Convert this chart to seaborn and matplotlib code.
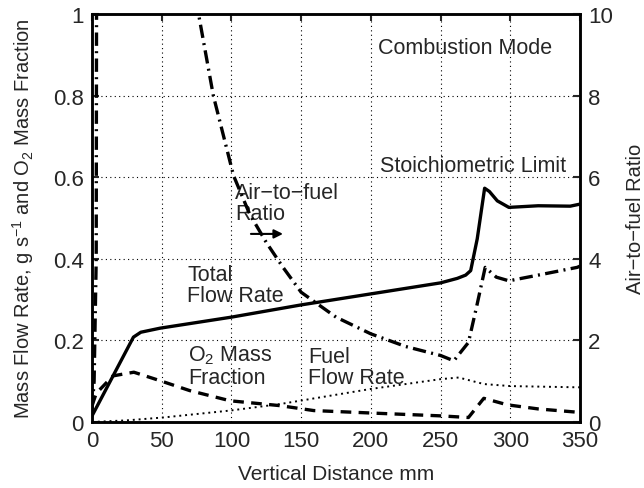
import numpy as np
import pandas as pd
import matplotlib
matplotlib.use('Agg')
import matplotlib.pyplot as plt
import seaborn as sns

sns.set_style('white')
plt.rcParams['font.family'] = ['Liberation Sans', 'DejaVu Sans']
plt.rcParams['mathtext.fontset'] = 'custom'
plt.rcParams['mathtext.rm'] = 'Liberation Sans'
plt.rcParams['mathtext.it'] = 'Liberation Sans'

# data
total_x = [0, 29.7, 35, 48.9, 100, 150, 200, 250, 262, 268, 271.6, 276.3,
           281.6, 285, 290.7, 299, 320, 343, 350]
total_y = [0.015, 0.208, 0.22, 0.23, 0.257, 0.287, 0.314, 0.341, 0.352,
           0.36, 0.371, 0.449, 0.573, 0.565, 0.542, 0.526, 0.53, 0.529, 0.534]

o2_x = [0, 3, 15, 30, 49, 70, 99, 135, 159, 200, 250, 265, 270, 281, 298, 320, 348, 350]
o2_y = [0.04, 0.07, 0.113, 0.122, 0.101, 0.077, 0.052, 0.04, 0.028, 0.022, 0.015,
        0.012, 0.011, 0.058, 0.042, 0.032, 0.024, 0.024]

fuel_x = [0, 25, 51, 99, 135, 200, 250, 263, 281, 300, 348, 350]
fuel_y = [0.0, 0.004, 0.011, 0.028, 0.044, 0.081, 0.105, 0.109, 0.093, 0.088, 0.085, 0.085]

afr_x = [0, 1.5, 3, 4, 60, 76.4, 87, 101.5, 113, 125, 137, 150, 175, 200, 225, 250,
         259.5, 270, 276, 282, 290, 299, 320, 348, 350]
afr_y = [0.3, 1.0, 4, 30, 16, 10, 8.0, 6.04, 5.1, 4.4, 3.79, 3.18, 2.57, 2.16, 1.85,
         1.63, 1.5, 1.95, 2.85, 3.79, 3.55, 3.46, 3.6, 3.79, 3.82]

fig = plt.figure(figsize=(6.44, 4.89), dpi=100)
ax = fig.add_axes([0.1429, 0.135, 0.7577, 0.8343])
ax2 = ax.twinx()

lw = 2.4
sns.lineplot(x=total_x, y=total_y, ax=ax, color='black', linewidth=lw, sort=False)
sns.lineplot(x=o2_x, y=o2_y, ax=ax, color='black', linewidth=lw, sort=False,
             linestyle=(0, (3.2, 2.2)))
sns.lineplot(x=fuel_x, y=fuel_y, ax=ax, color='black', linewidth=1.4, sort=False,
             linestyle=(0, (1, 2)))
sns.lineplot(x=afr_x, y=afr_y, ax=ax2, color='black', linewidth=lw, sort=False,
             linestyle=(0, (4, 1.6, 0.6, 1.6)))

ax.set_xlim(0, 350)
ax.set_ylim(0, 1)
ax2.set_ylim(0, 10)
ax.set_xticks(np.arange(0, 351, 50))
ax.set_yticks(np.arange(0, 1.01, 0.2))
ax.set_yticklabels(['0', '0.2', '0.4', '0.6', '0.8', '1'])
ax2.set_yticks(np.arange(0, 11, 2))

ax.grid(True, color='black', linestyle=(0, (1, 3)), linewidth=0.8)
for a in (ax, ax2):
    for s in a.spines.values():
        s.set_linewidth(1.8)
        s.set_color('black')
ax.tick_params(axis='both', direction='in', length=5, width=1.5, labelsize=16,
               top=True, right=False, pad=6)
ax2.tick_params(axis='y', direction='in', length=5, width=1.5, labelsize=16, pad=6)

ax.set_xlabel('Vertical Distance mm', fontsize=15, labelpad=9)
ax.set_ylabel(r'Mass Flow Rate, g s$^{-1}$ and O$_2$ Mass Fraction', fontsize=14.5,
              labelpad=12)
ax2.set_ylabel('Air\u2212to\u2212fuel Ratio', fontsize=14.5, labelpad=9)

fs = 15.5
ax.text(0.586, 0.918, 'Combustion Mode', transform=ax.transAxes, fontsize=fs, va='center')
ax.text(0.59, 0.628, 'Stoichiometric Limit', transform=ax.transAxes, fontsize=fs, va='center')
ax.text(0.293, 0.537, 'Air\u2212to\u2212fuel\nRatio', transform=ax.transAxes, fontsize=fs,
        va='center', linespacing=1.05)
ax.annotate('', xy=(0.397, 0.461), xytext=(0.32, 0.461), xycoords='axes fraction',
            arrowprops=dict(arrowstyle='-|>', color='black', lw=1.5, mutation_scale=13))
ax.text(0.195, 0.336, 'Total\nFlow Rate', transform=ax.transAxes, fontsize=fs,
        va='center', linespacing=1.05)
ax.text(0.197, 0.137, 'O$_2$ Mass\nFraction', transform=ax.transAxes, fontsize=fs,
        va='center', linespacing=1.05)
ax.text(0.443, 0.135, 'Fuel\nFlow Rate', transform=ax.transAxes, fontsize=fs,
        va='center', linespacing=1.05)

plt.savefig('out.png', dpi=100)
